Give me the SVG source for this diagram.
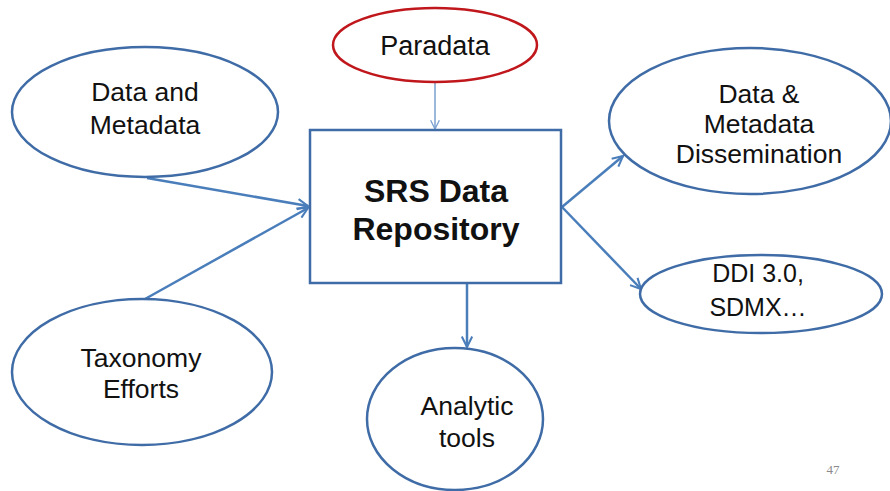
<svg xmlns="http://www.w3.org/2000/svg" width="890" height="491" viewBox="0 0 890 491">
<style>
.node{fill:#fff;stroke:#3f6ca6;stroke-width:2.5}
.red{fill:#fff;stroke:#c0171c;stroke-width:2.5}
.t{font-family:"Liberation Sans",Arial,sans-serif;font-size:26.5px;fill:#111;text-anchor:middle}
.b{font-weight:bold;font-size:32px}
.s{font-size:25px}
.p{font-size:27px}
.c{stroke:#4a7ebb;stroke-width:2.5;fill:none;marker-end:url(#ah)}
.thin{stroke:#7aa0d0;stroke-width:1.5;fill:none;marker-end:url(#ah2)}
</style>
<defs>
<marker id="ah" viewBox="0 0 12 12" refX="11" refY="6" markerWidth="5" markerHeight="5" orient="auto" markerUnits="strokeWidth">
<path d="M1,1 L11,6 L1,11" fill="none" stroke="#4a7ebb" stroke-width="2"/>
</marker>
<marker id="ah2" viewBox="0 0 12 12" refX="11" refY="6" markerWidth="7" markerHeight="7" orient="auto" markerUnits="strokeWidth">
<path d="M1,1 L11,6 L1,11" fill="none" stroke="#7aa0d0" stroke-width="1.5"/>
</marker>
</defs>
<rect width="890" height="491" fill="#fff"/>
<g id="connectors">
<line class="thin" x1="435" y1="83" x2="435" y2="129"/>
<line class="c" x1="147" y1="178" x2="308" y2="206"/>
<line class="c" x1="145" y1="299" x2="308" y2="208"/>
<line class="c" x1="467" y1="284" x2="467" y2="347"/>
<line class="c" x1="562" y1="207" x2="623" y2="156"/>
<line class="c" x1="562" y1="207" x2="641" y2="289"/>
</g>
<g id="paradata">
<ellipse class="red" cx="435" cy="45" rx="102" ry="37"/>
<text class="t p" x="435" y="55">Paradata</text>
</g>
<g id="data-metadata">
<ellipse class="node" cx="145" cy="112" rx="133" ry="65"/>
<text class="t" x="145" y="101">Data and</text>
<text class="t" x="145" y="134">Metadata</text>
</g>
<g id="taxonomy">
<ellipse class="node" cx="142" cy="372" rx="130" ry="73"/>
<text class="t" x="141" y="367">Taxonomy</text>
<text class="t" x="141" y="398">Efforts</text>
</g>
<g id="repository">
<rect class="node" x="310" y="130" width="251" height="153"/>
<text class="t b" x="436" y="202">SRS Data</text>
<text class="t b" x="436" y="240">Repository</text>
</g>
<g id="analytic">
<ellipse class="node" cx="455" cy="419" rx="88" ry="71"/>
<text class="t" x="467" y="415">Analytic</text>
<text class="t" x="467" y="447">tools</text>
</g>
<g id="dissemination">
<ellipse class="node" cx="750" cy="121" rx="141" ry="73"/>
<text class="t" x="759" y="103">Data &amp;</text>
<text class="t" x="759" y="133">Metadata</text>
<text class="t" x="759" y="163">Dissemination</text>
</g>
<g id="ddi">
<ellipse class="node" cx="761" cy="294" rx="121" ry="39"/>
<text class="t s" x="758" y="282">DDI 3.0,</text>
<text class="t s" x="758" y="316">SDMX…</text>
</g>
<text x="833" y="474" font-family="Liberation Serif,serif" font-size="13" fill="#8a8a8a" text-anchor="middle">47</text>
</svg>
